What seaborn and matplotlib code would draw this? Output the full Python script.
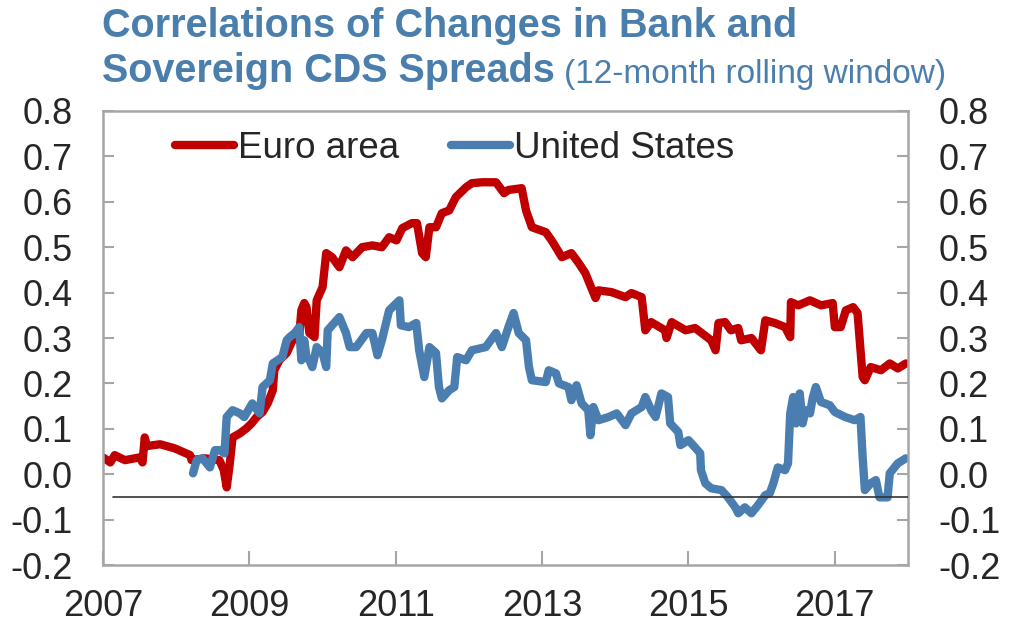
import numpy as np
import pandas as pd
import seaborn as sns
import matplotlib.pyplot as plt

# values (decimal year, correlation)
euro_year = [2007.00, 2007.10, 2007.16, 2007.30, 2007.50, 2007.54, 2007.57, 2007.60, 2007.78, 2007.98,
             2008.19, 2008.21, 2008.39, 2008.59, 2008.65, 2008.69, 2008.73, 2008.77, 2008.87, 2008.96,
             2009.03, 2009.10, 2009.18, 2009.25, 2009.32, 2009.34, 2009.41, 2009.51, 2009.59, 2009.68,
             2009.71, 2009.75, 2009.78, 2009.82, 2009.89, 2009.92, 2010.00, 2010.05, 2010.13, 2010.23,
             2010.32, 2010.41, 2010.54, 2010.68, 2010.81, 2010.91, 2011.01, 2011.09, 2011.22, 2011.29,
             2011.36, 2011.41, 2011.46, 2011.55, 2011.63, 2011.73, 2011.82, 2011.96, 2012.04, 2012.18,
             2012.37, 2012.48, 2012.54, 2012.72, 2012.78, 2012.86, 2013.05, 2013.13, 2013.27, 2013.40,
             2013.50, 2013.59, 2013.73, 2013.77, 2013.95, 2014.14, 2014.22, 2014.36, 2014.41, 2014.49,
             2014.68, 2014.70, 2014.77, 2014.96, 2015.09, 2015.31, 2015.37, 2015.41, 2015.50, 2015.58,
             2015.68, 2015.72, 2015.86, 2015.99, 2016.05, 2016.18, 2016.32, 2016.39, 2016.40, 2016.50,
             2016.66, 2016.81, 2016.97, 2017.00, 2017.08, 2017.15, 2017.25, 2017.31, 2017.38, 2017.41,
             2017.49, 2017.63, 2017.75, 2017.86, 2017.97]
euro_corr = [0.037, 0.026, 0.042, 0.031, 0.037, 0.026, 0.081, 0.062, 0.066, 0.057,
             0.042, 0.031, 0.035, 0.031, 0.009, -0.029, 0.020, 0.081, 0.090, 0.101,
             0.112, 0.126, 0.137, 0.156, 0.185, 0.229, 0.251, 0.267, 0.295, 0.302,
             0.361, 0.377, 0.368, 0.311, 0.302, 0.383, 0.412, 0.487, 0.478, 0.456,
             0.493, 0.478, 0.500, 0.504, 0.500, 0.522, 0.515, 0.542, 0.553, 0.553,
             0.487, 0.478, 0.544, 0.544, 0.575, 0.581, 0.610, 0.632, 0.641, 0.643,
             0.643, 0.619, 0.626, 0.630, 0.581, 0.544, 0.533, 0.515, 0.478, 0.487,
             0.465, 0.443, 0.388, 0.405, 0.401, 0.390, 0.399, 0.390, 0.317, 0.335,
             0.317, 0.300, 0.335, 0.317, 0.322, 0.295, 0.273, 0.333, 0.335, 0.317,
             0.322, 0.295, 0.300, 0.273, 0.339, 0.333, 0.324, 0.302, 0.379, 0.372,
             0.383, 0.372, 0.377, 0.324, 0.324, 0.361, 0.368, 0.355, 0.214, 0.207,
             0.236, 0.229, 0.244, 0.233, 0.244]

us_year = [2008.23, 2008.28, 2008.36, 2008.46, 2008.53, 2008.59, 2008.66, 2008.69, 2008.77, 2008.87,
           2008.93, 2009.04, 2009.14, 2009.18, 2009.28, 2009.32, 2009.45, 2009.51, 2009.55, 2009.62,
           2009.68, 2009.71, 2009.75, 2009.78, 2009.82, 2009.86, 2009.92, 2010.00, 2010.05, 2010.07,
           2010.19, 2010.23, 2010.32, 2010.37, 2010.46, 2010.60, 2010.68, 2010.75, 2010.81, 2010.91,
           2011.05, 2011.07, 2011.18, 2011.28, 2011.32, 2011.39, 2011.46, 2011.55, 2011.59, 2011.63,
           2011.73, 2011.80, 2011.84, 2011.96, 2012.04, 2012.23, 2012.37, 2012.45, 2012.54, 2012.61,
           2012.68, 2012.78, 2012.82, 2012.86, 2013.05, 2013.09, 2013.19, 2013.23, 2013.36, 2013.40,
           2013.47, 2013.54, 2013.63, 2013.66, 2013.70, 2013.77, 2013.91, 2014.02, 2014.14, 2014.22,
           2014.36, 2014.41, 2014.49, 2014.55, 2014.63, 2014.72, 2014.75, 2014.86, 2014.89, 2015.00,
           2015.09, 2015.16, 2015.17, 2015.23, 2015.31, 2015.45, 2015.54, 2015.64, 2015.68, 2015.77,
           2015.86, 2015.95, 2016.05, 2016.11, 2016.16, 2016.22, 2016.32, 2016.36, 2016.39, 2016.43,
           2016.47, 2016.52, 2016.56, 2016.60, 2016.66, 2016.70, 2016.74, 2016.81, 2016.93, 2017.00,
           2017.14, 2017.27, 2017.35, 2017.38, 2017.41, 2017.49, 2017.56, 2017.61, 2017.72, 2017.75,
           2017.86, 2017.97]
us_corr = [0.002, 0.031, 0.035, 0.015, 0.053, 0.053, 0.046, 0.126, 0.141, 0.134,
           0.126, 0.156, 0.134, 0.192, 0.207, 0.244, 0.258, 0.295, 0.302, 0.311,
           0.324, 0.251, 0.295, 0.258, 0.251, 0.236, 0.280, 0.267, 0.236, 0.317,
           0.339, 0.346, 0.311, 0.280, 0.280, 0.311, 0.311, 0.262, 0.295, 0.361,
           0.383, 0.328, 0.324, 0.333, 0.273, 0.214, 0.280, 0.267, 0.192, 0.167,
           0.185, 0.192, 0.258, 0.251, 0.273, 0.280, 0.311, 0.280, 0.324, 0.355,
           0.311, 0.295, 0.236, 0.207, 0.203, 0.229, 0.222, 0.200, 0.192, 0.163,
           0.196, 0.156, 0.141, 0.086, 0.148, 0.119, 0.126, 0.134, 0.108, 0.134,
           0.148, 0.170, 0.141, 0.126, 0.178, 0.170, 0.112, 0.093, 0.064, 0.075,
           0.059, 0.046, 0.009, -0.020, -0.031, -0.035, -0.051, -0.073, -0.086, -0.073,
           -0.086, -0.068, -0.046, -0.042, -0.020, 0.015, 0.009, 0.024, 0.134, 0.170,
           0.112, 0.178, 0.112, 0.141, 0.134, 0.170, 0.192, 0.159, 0.152, 0.137,
           0.126, 0.119, 0.126, 0.037, -0.035, -0.020, -0.013, -0.051, -0.051, 0.002,
           0.024, 0.035]

x_ticks = [2007, 2009, 2011, 2013, 2015, 2017]
y_ticks = [-0.2, -0.1, 0.0, 0.1, 0.2, 0.3, 0.4, 0.5, 0.6, 0.7, 0.8]
ref_line = -0.05

sns.set_style('white')
plt.rcParams['font.family'] = ['Liberation Sans', 'DejaVu Sans']
plt.rcParams['axes.unicode_minus'] = False

df = pd.concat([
    pd.DataFrame({'year': euro_year, 'corr': euro_corr, 'region': 'Euro area'}),
    pd.DataFrame({'year': us_year, 'corr': us_corr, 'region': 'United States'}),
])

title_blue = '#4A7EAD'
frame_gray = '#A6A6A6'

fig = plt.figure(figsize=(10.25, 6.26), dpi=100)
ax = fig.add_axes([0.1005, 0.0974, 0.7854, 0.7253])

sns.lineplot(data=df, x='year', y='corr', hue='region',
             palette={'Euro area': '#C00000', 'United States': '#4A7EB0'},
             linewidth=6, estimator=None, sort=False, ax=ax)

ax.axhline(ref_line, xmin=0.012, xmax=1, color='#333333', linewidth=1.2, zorder=5)

ax.set_xlim(2007, 2018)
ax.set_ylim(-0.2, 0.8)
ax.set_xticks(x_ticks)
ax.set_xticklabels([str(y) for y in x_ticks])
ax.set_yticks(y_ticks)
ax.set_yticklabels([f'{v:.1f}' for v in y_ticks])
ax.set_xlabel('')
ax.set_ylabel('')

for side in ['left', 'right', 'top', 'bottom']:
    ax.spines[side].set_visible(True)
    ax.spines[side].set_color(frame_gray)
    ax.spines[side].set_linewidth(1.8)

ax.tick_params(axis='y', which='both', direction='in', left=True, right=True,
               labelleft=True, labelright=True, length=8, width=1.5,
               color=frame_gray, labelsize=26, pad=22)
ax.tick_params(axis='x', which='both', direction='in', bottom=True,
               length=10, width=1.5, color=frame_gray, labelsize=26, pad=17)

handles, labels = ax.get_legend_handles_labels()
ax.legend(handles, labels, loc='center', bbox_to_anchor=(0.437, 0.918), ncol=2,
          frameon=False, fontsize=26.5, handlelength=1.6, handletextpad=0.12,
          columnspacing=1.4)

fig.text(0.1, 0.941, 'Correlations of Changes in Bank and', color=title_blue,
         fontsize=28.5, fontweight='bold', va='baseline', ha='left')
t2 = fig.text(0.1, 0.869, 'Sovereign CDS Spreads', color=title_blue,
              fontsize=28.5, fontweight='bold', va='baseline', ha='left')
ax.annotate('(12-month rolling window)', xy=(1, 0), xycoords=t2,
            xytext=(6, 0), textcoords='offset points', color=title_blue,
            fontsize=24, va='bottom', ha='left', annotation_clip=False)

plt.savefig('out.png', dpi=100)
